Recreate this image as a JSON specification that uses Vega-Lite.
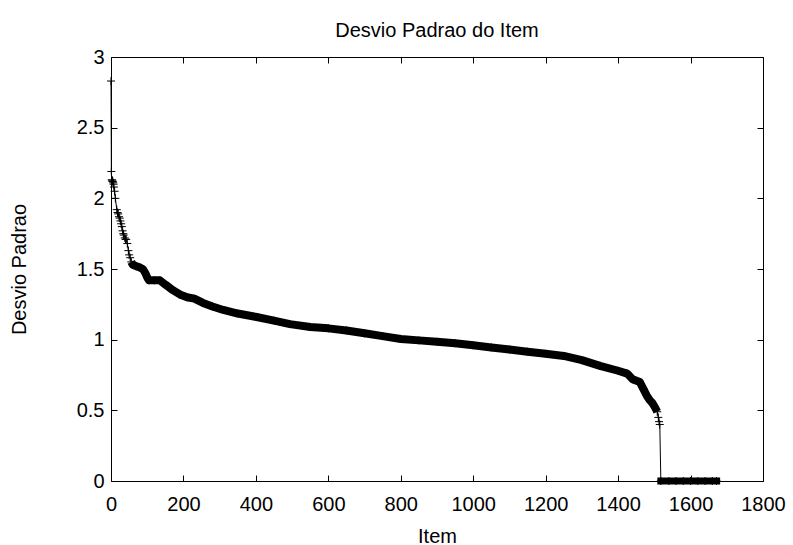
{
  "$schema": "https://vega.github.io/schema/vega-lite/v6.json",
  "width": 652,
  "height": 424,
  "autosize": {"type": "none"},
  "padding": {"left": 111, "top": 57, "right": 30, "bottom": 64},
  "background": "white",
  "title": {
    "text": "Desvio Padrao do Item",
    "font": "Liberation Sans",
    "fontSize": 20,
    "fontWeight": "normal",
    "color": "black",
    "anchor": "middle",
    "offset": 6
  },
  "config": {
    "view": {"stroke": "black", "strokeWidth": 1},
    "axis": {
      "labelFont": "Liberation Sans",
      "labelFontSize": 20,
      "labelColor": "black",
      "labelFlush": false,
      "labelOverlap": false,
      "titleFont": "Liberation Sans",
      "titleFontSize": 20,
      "titleFontWeight": "normal",
      "titleColor": "black",
      "domain": false,
      "grid": false,
      "tickColor": "black",
      "tickSize": -6,
      "tickWidth": 1
    }
  },
  "data": {
    "values": [
      {"i": 0, "d": 2.83},
      {"i": 1, "d": 2.19},
      {"i": 2, "d": 2.13},
      {"i": 3, "d": 2.13},
      {"i": 4, "d": 2.12},
      {"i": 5, "d": 2.12},
      {"i": 6, "d": 2.11},
      {"i": 7, "d": 2.1},
      {"i": 8, "d": 2.08},
      {"i": 10, "d": 2.05},
      {"i": 12, "d": 2.0},
      {"i": 16, "d": 1.92},
      {"i": 18, "d": 1.9},
      {"i": 20, "d": 1.89},
      {"i": 22, "d": 1.87},
      {"i": 24, "d": 1.86},
      {"i": 26, "d": 1.84},
      {"i": 28, "d": 1.82},
      {"i": 30, "d": 1.8},
      {"i": 32, "d": 1.77},
      {"i": 34, "d": 1.75},
      {"i": 35, "d": 1.74},
      {"i": 38, "d": 1.72},
      {"i": 40, "d": 1.71},
      {"i": 42, "d": 1.71},
      {"i": 45, "d": 1.68},
      {"i": 48, "d": 1.63},
      {"i": 50, "d": 1.6},
      {"i": 53, "d": 1.58},
      {"i": 56, "d": 1.55},
      {"i": 60, "d": 1.53},
      {"i": 70, "d": 1.52},
      {"i": 80, "d": 1.51},
      {"i": 88, "d": 1.5},
      {"i": 95, "d": 1.47},
      {"i": 100, "d": 1.44},
      {"i": 105, "d": 1.42},
      {"i": 120, "d": 1.42},
      {"i": 135, "d": 1.42},
      {"i": 150, "d": 1.39},
      {"i": 171, "d": 1.35},
      {"i": 190, "d": 1.32},
      {"i": 210, "d": 1.3},
      {"i": 230, "d": 1.29},
      {"i": 254, "d": 1.26},
      {"i": 280, "d": 1.235},
      {"i": 310, "d": 1.21},
      {"i": 350, "d": 1.185},
      {"i": 402, "d": 1.16},
      {"i": 450, "d": 1.135},
      {"i": 494, "d": 1.11},
      {"i": 550, "d": 1.09},
      {"i": 600, "d": 1.08},
      {"i": 650, "d": 1.065},
      {"i": 700, "d": 1.045},
      {"i": 750, "d": 1.025},
      {"i": 800, "d": 1.005},
      {"i": 850, "d": 0.995},
      {"i": 900, "d": 0.985},
      {"i": 950, "d": 0.975},
      {"i": 1000, "d": 0.96},
      {"i": 1050, "d": 0.945},
      {"i": 1100, "d": 0.93},
      {"i": 1150, "d": 0.915},
      {"i": 1200, "d": 0.9},
      {"i": 1250, "d": 0.885},
      {"i": 1300, "d": 0.855},
      {"i": 1350, "d": 0.815},
      {"i": 1400, "d": 0.78},
      {"i": 1425, "d": 0.76},
      {"i": 1440, "d": 0.72},
      {"i": 1460, "d": 0.7},
      {"i": 1470, "d": 0.65},
      {"i": 1480, "d": 0.6},
      {"i": 1488, "d": 0.57},
      {"i": 1495, "d": 0.55},
      {"i": 1502, "d": 0.52},
      {"i": 1508, "d": 0.49},
      {"i": 1511, "d": 0.45},
      {"i": 1513, "d": 0.42},
      {"i": 1515, "d": 0.4},
      {"i": 1518, "d": 0},
      {"i": 1540, "d": 0},
      {"i": 1560, "d": 0},
      {"i": 1580, "d": 0},
      {"i": 1600, "d": 0},
      {"i": 1620, "d": 0},
      {"i": 1640, "d": 0},
      {"i": 1660, "d": 0},
      {"i": 1672, "d": 0}
    ]
  },
  "resolve": {"axis": {"x": "independent", "y": "independent"}},
  "layer": [
    {
      "mark": {"type": "line", "color": "black", "strokeWidth": 1, "clip": false},
      "encoding": {
        "x": {
          "field": "i", "type": "quantitative",
          "scale": {"domain": [0, 1800], "nice": false, "zero": false},
          "axis": {"title": "Item", "orient": "bottom", "values": [0, 200, 400, 600, 800, 1000, 1200, 1400, 1600, 1800], "format": "d", "labelPadding": 19, "titlePadding": 12}
        },
        "y": {
          "field": "d", "type": "quantitative",
          "scale": {"domain": [0, 3], "nice": false},
          "axis": {"title": "Desvio Padrao", "orient": "left", "values": [0, 0.5, 1, 1.5, 2, 2.5, 3], "format": "~g", "labelPadding": 13, "titlePadding": 47}
        }
      }
    },
    {
      "transform": [{"filter": "datum.i >= 56 && datum.i <= 1508"}],
      "mark": {"type": "line", "color": "black", "strokeWidth": 8, "strokeCap": "butt", "strokeJoin": "round", "clip": false},
      "encoding": {
        "x": {"field": "i", "type": "quantitative", "axis": {"orient": "top", "labels": false, "title": null, "values": [0, 200, 400, 600, 800, 1000, 1200, 1400, 1600, 1800]}},
        "y": {"field": "d", "type": "quantitative", "axis": {"orient": "right", "labels": false, "title": null, "values": [0, 0.5, 1, 1.5, 2, 2.5, 3]}}
      }
    },
    {
      "transform": [{"filter": "datum.d == 0"}],
      "mark": {"type": "line", "color": "black", "strokeWidth": 7, "strokeCap": "square", "clip": false},
      "encoding": {
        "x": {"field": "i", "type": "quantitative", "axis": null},
        "y": {"field": "d", "type": "quantitative", "axis": null}
      }
    },
    {
      "mark": {"type": "point", "shape": "M-1,0H1M0,-1V1", "filled": false, "stroke": "black", "strokeWidth": 1, "size": 64, "opacity": 1, "clip": false},
      "encoding": {
        "x": {"field": "i", "type": "quantitative", "axis": null},
        "y": {"field": "d", "type": "quantitative", "axis": null}
      }
    }
  ]
}
